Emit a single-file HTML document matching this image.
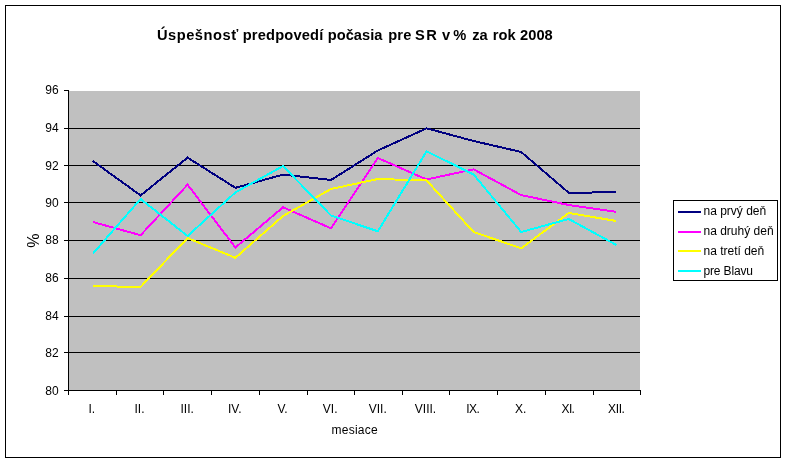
<!DOCTYPE html>
<html lang="sk">
<head>
<meta charset="utf-8">
<title>Úspešnosť predpovedí počasia pre SR v % za rok 2008</title>
<style>
html,body{margin:0;padding:0;background:#fff;}
body{width:787px;height:463px;overflow:hidden;}
svg{display:block;}
text{font-family:"Liberation Sans",Arial,sans-serif;fill:#000;}
.t{font-size:12px;}
.ttl{font-size:14.67px;font-weight:bold;}
</style>
</head>
<body>
<svg width="787" height="463" viewBox="0 0 787 463">
<rect x="0" y="0" width="787" height="463" fill="#ffffff"/>
<rect x="5.5" y="5.5" width="775" height="452" fill="#ffffff" stroke="#000" stroke-width="1" shape-rendering="crispEdges"/>
<rect x="69" y="91" width="571" height="299" fill="#c0c0c0" shape-rendering="crispEdges"/>
<g stroke="#000" stroke-width="1" shape-rendering="crispEdges">
<line x1="69" y1="128.5" x2="640" y2="128.5"/>
<line x1="69" y1="165.5" x2="640" y2="165.5"/>
<line x1="69" y1="202.5" x2="640" y2="202.5"/>
<line x1="69" y1="240.5" x2="640" y2="240.5"/>
<line x1="69" y1="278.5" x2="640" y2="278.5"/>
<line x1="69" y1="316.5" x2="640" y2="316.5"/>
<line x1="69" y1="352.5" x2="640" y2="352.5"/>
<line x1="68.5" y1="90" x2="68.5" y2="395"/>
<line x1="64" y1="390.5" x2="641" y2="390.5"/>
<line x1="64" y1="90.5" x2="69" y2="90.5"/>
<line x1="64" y1="128.5" x2="69" y2="128.5"/>
<line x1="64" y1="165.5" x2="69" y2="165.5"/>
<line x1="64" y1="202.5" x2="69" y2="202.5"/>
<line x1="64" y1="240.5" x2="69" y2="240.5"/>
<line x1="64" y1="278.5" x2="69" y2="278.5"/>
<line x1="64" y1="316.5" x2="69" y2="316.5"/>
<line x1="64" y1="352.5" x2="69" y2="352.5"/>
<line x1="116.5" y1="390" x2="116.5" y2="395"/>
<line x1="163.5" y1="390" x2="163.5" y2="395"/>
<line x1="211.5" y1="390" x2="211.5" y2="395"/>
<line x1="259.5" y1="390" x2="259.5" y2="395"/>
<line x1="307.5" y1="390" x2="307.5" y2="395"/>
<line x1="354.5" y1="390" x2="354.5" y2="395"/>
<line x1="402.5" y1="390" x2="402.5" y2="395"/>
<line x1="449.5" y1="390" x2="449.5" y2="395"/>
<line x1="497.5" y1="390" x2="497.5" y2="395"/>
<line x1="545.5" y1="390" x2="545.5" y2="395"/>
<line x1="593.5" y1="390" x2="593.5" y2="395"/>
<line x1="640.5" y1="390" x2="640.5" y2="395"/>
</g>
<g fill="none" stroke-width="2" stroke-linejoin="miter" stroke-linecap="butt" shape-rendering="crispEdges">
<polyline stroke="#000080" points="92.8,161.0 140.6,195.4 187.6,157.6 235.4,187.8 283.0,174.6 331.0,180.0 377.8,150.5 426.6,128.3 473.6,141.0 521.2,152.0 568.8,192.8 616.4,192.2"/>
<polyline stroke="#ff00ff" points="92.8,222.0 140.6,235.2 187.6,184.7 235.4,247.5 283.0,207.3 331.0,228.3 377.8,158.0 426.6,179.5 473.6,169.3 521.2,195.1 568.8,205.0 616.4,211.9"/>
<polyline stroke="#ffff00" points="92.8,286.1 140.6,286.9 187.6,238.0 235.4,257.8 283.0,216.0 331.0,189.0 377.8,179.0 426.6,180.5 473.6,232.0 521.2,248.3 568.8,213.0 616.4,221.0"/>
<polyline stroke="#00ffff" points="92.8,253.7 140.6,199.0 187.6,236.0 235.4,192.4 283.0,166.0 331.0,215.5 377.8,231.3 426.6,151.3 473.6,174.5 521.2,232.0 568.8,219.0 616.4,245.0"/>
</g>
<g class="t" text-anchor="end">
<text x="58.6" y="94">96</text>
<text x="58.6" y="132">94</text>
<text x="58.6" y="170">92</text>
<text x="58.6" y="207">90</text>
<text x="58.6" y="244">88</text>
<text x="58.6" y="282">86</text>
<text x="58.6" y="320">84</text>
<text x="58.6" y="357">82</text>
<text x="58.6" y="395">80</text>
</g>
<g class="t" text-anchor="middle">
<text x="91.8" y="413">I.</text>
<text x="139.5" y="413">II.</text>
<text x="187.2" y="413">III.</text>
<text x="234.8" y="413">IV.</text>
<text x="282.5" y="413">V.</text>
<text x="330.2" y="413">VI.</text>
<text x="377.8" y="413">VII.</text>
<text x="425.5" y="413">VIII.</text>
<text x="472.7" y="413" style="letter-spacing:-0.6px">IX.</text>
<text x="520.6" y="413" style="letter-spacing:-0.2px">X.</text>
<text x="567.9" y="413" style="letter-spacing:-0.7px">XI.</text>
<text x="616.3" y="413" style="letter-spacing:-0.4px">XII.</text>
<text x="354.7" y="434" style="letter-spacing:0.25px">mesiace</text>
</g>
<text text-anchor="middle" transform="translate(38.6,240.7) rotate(-90)" style="font-size:16px">%</text>
<text class="ttl" y="39.8" xml:space="preserve"><tspan x="156.9" style="letter-spacing:0.53px">Úspešnosť </tspan><tspan x="242.7" style="letter-spacing:0.18px">predpovedí </tspan><tspan x="327.7" style="letter-spacing:0.03px">počasia </tspan><tspan x="388.2" style="letter-spacing:0.15px">pre </tspan><tspan x="415.0" style="letter-spacing:1.4px">SR </tspan><tspan x="441.9" style="letter-spacing:0px">v </tspan><tspan x="453.2" style="letter-spacing:0px">% </tspan><tspan x="468.1"> za </tspan><tspan x="492.8" style="letter-spacing:0px">rok </tspan><tspan x="520.1" style="letter-spacing:0px">2008</tspan></text>
<rect x="673.5" y="200.5" width="104" height="80" fill="#fff" stroke="#000" stroke-width="1" shape-rendering="crispEdges"/>
<line x1="678" y1="212" x2="701" y2="212" stroke="#000080" stroke-width="2" shape-rendering="crispEdges"/>
<text class="t" x="703.5" y="215.0">na prvý deň</text>
<line x1="678" y1="232" x2="701" y2="232" stroke="#ff00ff" stroke-width="2" shape-rendering="crispEdges"/>
<text class="t" x="703.5" y="235.0">na druhý deň</text>
<line x1="678" y1="251" x2="701" y2="251" stroke="#ffff00" stroke-width="2" shape-rendering="crispEdges"/>
<text class="t" x="703.5" y="255.0">na tretí deň</text>
<line x1="678" y1="271" x2="701" y2="271" stroke="#00ffff" stroke-width="2" shape-rendering="crispEdges"/>
<text class="t" x="703.5" y="275" style="letter-spacing:-0.15px">pre Blavu</text>
</svg>
</body>
</html>
